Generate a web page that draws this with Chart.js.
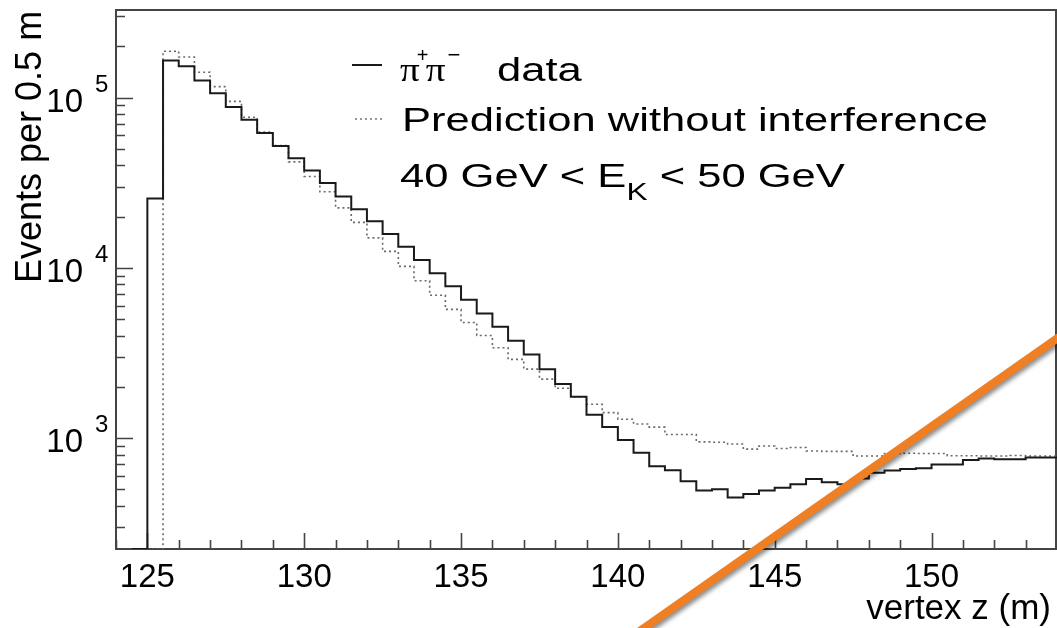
<!DOCTYPE html>
<html>
<head>
<meta charset="utf-8">
<script src="https://cdn.jsdelivr.net/npm/chart.js@4.4.1/dist/chart.umd.min.js"></script>
<style>
  html, body { margin: 0; padding: 0; background: #ffffff; }
  #wrap { width: 1057px; height: 628px; }
</style>
</head>
<body>
<div id="wrap"><canvas id="c" width="1057" height="628"></canvas></div>
<script>
// ---------------- data ----------------
const binLowEdges = [124.5, 125, 125.5, 126, 126.5, 127, 127.5, 128, 128.5, 129, 129.5,
  130, 130.5, 131, 131.5, 132, 132.5, 133, 133.5, 134, 134.5, 135, 135.5, 136, 136.5,
  137, 137.5, 138, 138.5, 139, 139.5, 140, 140.5, 141, 141.5, 142, 142.5, 143, 143.5,
  144, 144.5, 145, 145.5, 146, 146.5, 147, 147.5, 148, 148.5, 149, 149.5, 150, 150.5,
  151, 151.5, 152, 152.5, 153, 153.5];
const histUpperEdge = 154;

const pipiData = [0, 25500, 165000, 153000, 126000, 106000, 88000, 74000, 62000, 52000, 44000,
  37300, 31500, 26200, 22100, 18800, 15800, 13300, 11100, 9300, 7800, 6500, 5400, 4500, 3730,
  3100, 2540, 2080, 1750, 1370, 1160, 973, 820, 684, 646, 557, 492, 500, 448,
  469, 492, 510, 536, 574, 550, 535, 578, 625, 645, 658, 664, 700, 700,
  742, 759, 750, 750, 769, 769];

const predictionNoInterference = [0, 0, 187000, 173000, 141000, 116000, 95000, 76600, 62800, 52200, 41900,
  34400, 28000, 22500, 18500, 15000, 12500, 10200, 8400, 6900, 5700, 4770, 4000, 3390, 2900,
  2540, 2220, 1960, 1750, 1580, 1410, 1290, 1210, 1160, 1050, 1050, 950, 945, 922,
  861, 898, 869, 881, 839, 835, 835, 784, 784, 811, 815, 811, 811, 787,
  787, 784, 784, 790, 784, 784];

// axis ranges and ticks
const xRange = [124, 154];
const yRange = [223, 327000];
const xMajorTicks = [125, 130, 135, 140, 145, 150];
const xMinorTicks = [124, 126, 127, 128, 129, 131, 132, 133, 134, 136, 137, 138, 139, 141, 142, 143, 144, 146, 147, 148, 149, 151, 152, 153];
const yMajorTicks = [1000, 10000, 100000];
const yMajorExponents = ['3', '4', '5'];
const yMinorTicks = [300, 400, 500, 600, 700, 800, 900, 2000, 3000, 4000, 5000, 6000, 7000, 8000, 9000,
  20000, 30000, 40000, 50000, 60000, 70000, 80000, 90000, 200000, 300000];

// texts
const xTitle = 'vertex z (m)';
const yTitle = 'Events per 0.5 m';
const legendData = 'data';
const legendPrediction = 'Prediction without interference';

// orange overlay stroke (in data coordinates)
const overlayLine = [{x: 139.4, y: 50}, {x: 155.3, y: 5660}];

// ---------------- build histogram outlines ----------------
// empty bins are drawn on the frame bottom, as ROOT does on a log axis
function histPoints(values) {
  const pts = binLowEdges.map((e, i) => ({x: e, y: Math.max(values[i], yRange[0])}));
  pts.push({x: histUpperEdge, y: Math.max(values[values.length - 1], yRange[0])});
  return pts;
}

const FONT = "'Liberation Sans', Arial, Helvetica, sans-serif";
const SERIF = "'Liberation Serif', 'Times New Roman', serif";

function stretchedText(ctx, text, x, y, font, sx) {
  ctx.save();
  ctx.font = font;
  const w = ctx.measureText(text).width * sx;
  ctx.translate(x, y);
  ctx.scale(sx, 1);
  ctx.fillText(text, 0, 0);
  ctx.restore();
  return w;
}

const rootStyle = {
  id: 'rootStyle',
  beforeDatasetsDraw(chart) {
    const {ctx, chartArea: a} = chart;
    const xs = chart.scales.x, ys = chart.scales.y;
    ctx.save();
    // frame
    ctx.strokeStyle = '#444';
    ctx.lineWidth = 2;
    ctx.strokeRect(a.left, a.top, a.right - a.left - 1, a.bottom - a.top);
    // ticks (inside the frame)
    ctx.beginPath();
    xMajorTicks.forEach(v => { const p = Math.round(xs.getPixelForValue(v)) + 0.5; ctx.moveTo(p, a.bottom); ctx.lineTo(p, a.bottom - 16); });
    xMinorTicks.forEach(v => { const p = Math.round(xs.getPixelForValue(v)) + 0.5; ctx.moveTo(p, a.bottom); ctx.lineTo(p, a.bottom - 9); });
    yMajorTicks.forEach(v => { const p = Math.round(ys.getPixelForValue(v)) + 0.5; ctx.moveTo(a.left, p); ctx.lineTo(a.left + 17, p); });
    yMinorTicks.forEach(v => { const p = Math.round(ys.getPixelForValue(v)) + 0.5; ctx.moveTo(a.left, p); ctx.lineTo(a.left + 9, p); });
    ctx.lineWidth = 1.6;
    ctx.stroke();

    ctx.fillStyle = '#000';
    // x tick labels
    ctx.font = '33px ' + FONT;
    ctx.textAlign = 'center';
    ctx.textBaseline = 'alphabetic';
    xMajorTicks.forEach(v => ctx.fillText(String(v), xs.getPixelForValue(v), 587));
    // y tick labels 10^n
    yMajorTicks.forEach((v, i) => {
      const p = ys.getPixelForValue(v);
      ctx.font = '33px ' + FONT;
      ctx.textAlign = 'right';
      ctx.fillText('10', 83, p + 14);
      ctx.font = '24px ' + FONT;
      ctx.textAlign = 'left';
      ctx.fillText(yMajorExponents[i], 95, p - 6);
    });
    // x title
    ctx.font = '35px ' + FONT;
    ctx.textAlign = 'right';
    ctx.fillText(xTitle, 1051, 619);
    // y title
    ctx.save();
    ctx.translate(41, 283);
    ctx.rotate(-Math.PI / 2);
    ctx.font = '36px ' + FONT;
    ctx.textAlign = 'left';
    ctx.fillText(yTitle, 0, 0);
    ctx.restore();

    // legend
    ctx.textAlign = 'left';
    const SX = 1.32;
    ctx.strokeStyle = '#1a1a1a';
    ctx.lineWidth = 2;
    ctx.setLineDash([]);
    ctx.beginPath(); ctx.moveTo(352, 65); ctx.lineTo(382, 65); ctx.stroke();
    ctx.strokeStyle = '#777';
    ctx.lineWidth = 1.6;
    ctx.setLineDash([2, 3]);
    ctx.beginPath(); ctx.moveTo(355, 119); ctx.lineTo(383, 119); ctx.stroke();
    ctx.setLineDash([]);
    // line 1: pi+ pi- data
    let x0 = 400;
    x0 += stretchedText(ctx, '\u03C0', x0, 81, '34px ' + SERIF, 1.15);
    stretchedText(ctx, '+', x0 - 3, 62, '20px ' + FONT, 1.0);
    x0 += 6;
    x0 += stretchedText(ctx, '\u03C0', x0, 81, '34px ' + SERIF, 1.15);
    stretchedText(ctx, '\u2212', x0 + 2, 62, '22px ' + FONT, 1.0);
    stretchedText(ctx, legendData, 497, 81, '33px ' + FONT, SX);
    // line 2
    stretchedText(ctx, legendPrediction, 402, 131, '33px ' + FONT, SX);
    // line 3: 40 GeV < E_K < 50 GeV
    let x3 = 400;
    x3 += stretchedText(ctx, '40 GeV < E', x3, 187, '33px ' + FONT, SX);
    x3 += stretchedText(ctx, 'K', x3, 200, '24px ' + FONT, SX);
    stretchedText(ctx, ' < 50 GeV', x3, 187, '33px ' + FONT, SX);
    ctx.restore();
  },
  beforeDatasetDraw(chart, args) {
    if (args.index === 2) {
      const ctx = chart.ctx;
      ctx.save();
      ctx.shadowColor = 'rgba(0,0,0,0.45)';
      ctx.shadowBlur = 4;
      ctx.shadowOffsetX = 2;
      ctx.shadowOffsetY = 3;
    }
  },
  afterDatasetDraw(chart, args) {
    if (args.index === 2) chart.ctx.restore();
  }
};

new Chart(document.getElementById('c'), {
  type: 'line',
  data: {
    datasets: [
      {
        label: 'π⁺π⁻ data',
        data: histPoints(pipiData),
        stepped: 'before',
        borderColor: '#1a1a1a',
        borderWidth: 2,
        pointRadius: 0,
        fill: false,
        order: 2
      },
      {
        label: legendPrediction,
        data: histPoints(predictionNoInterference),
        stepped: 'before',
        borderColor: '#6a6a6a',
        borderWidth: 1.6,
        borderDash: [2, 3],
        pointRadius: 0,
        fill: false,
        order: 3
      },
      {
        label: 'overlay',
        data: overlayLine,
        borderColor: '#EF7F22',
        borderWidth: 8,
        borderCapStyle: 'butt',
        pointRadius: 0,
        fill: false,
        clip: false,
        order: 0
      }
    ]
  },
  options: {
    responsive: false,
    animation: false,
    events: [],
    layout: { padding: { left: 116, top: 10, right: 0, bottom: 79 } },
    plugins: { legend: { display: false }, tooltip: { enabled: false }, title: { display: false } },
    scales: {
      x: { type: 'linear', min: xRange[0], max: xRange[1], display: false },
      y: { type: 'logarithmic', min: yRange[0], max: yRange[1], display: false }
    }
  },
  plugins: [rootStyle]
});
</script>
</body>
</html>
